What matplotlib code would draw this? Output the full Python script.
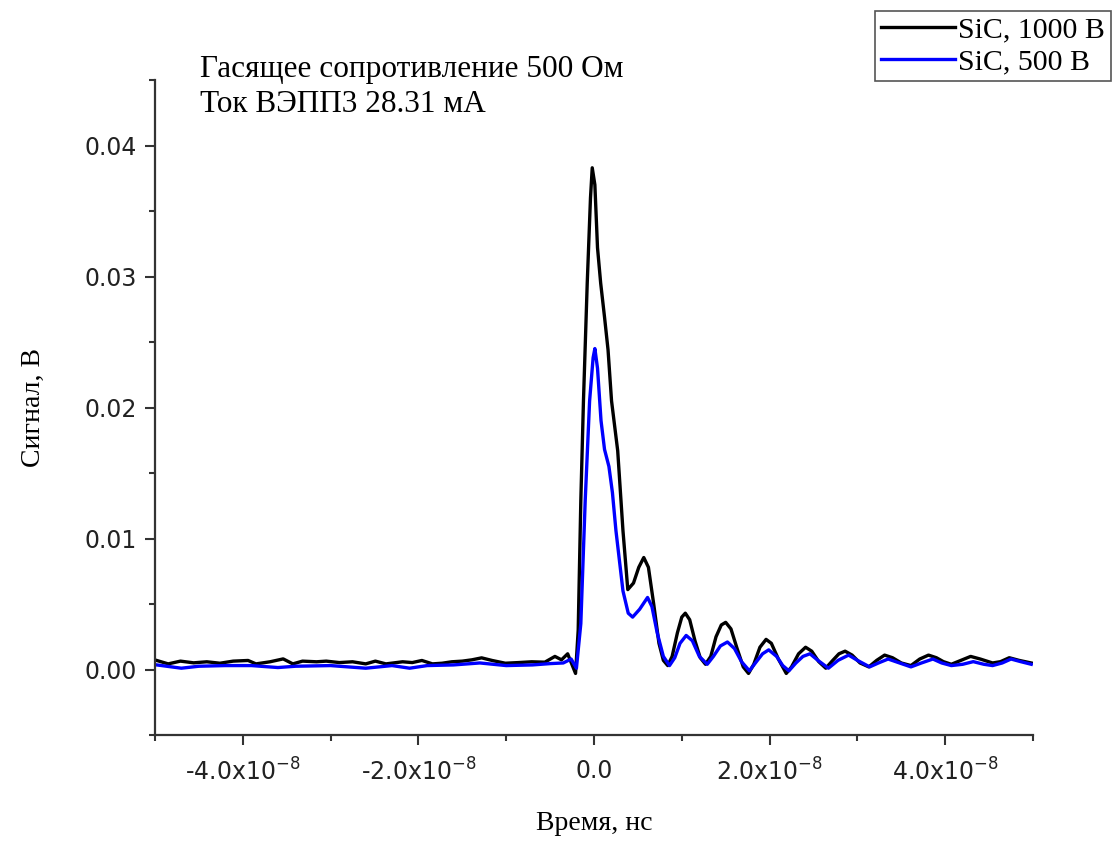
import numpy as np
import matplotlib.pyplot as plt
from matplotlib.ticker import MultipleLocator

plt.rcParams['mathtext.default'] = 'regular'
plt.rcParams['axes.unicode_minus'] = False

# time in units of 1e-8 s, signal in mV
t_1000 = [-4.98, -4.85, -4.71, -4.56, -4.41, -4.26, -4.11, -3.94, -3.85, -3.69,
          -3.54, -3.43, -3.32, -3.16, -3.05, -2.90, -2.75, -2.60, -2.49, -2.37,
          -2.18, -2.07, -1.96, -1.84, -1.73, -1.62, -1.50, -1.39, -1.28, -1.16,
          -1.01, -0.86, -0.71, -0.56, -0.445, -0.37, -0.30, -0.21, -0.18, -0.15,
          -0.12, -0.077, -0.04, -0.02, 0.01, 0.04, 0.076, 0.12, 0.16, 0.20,
          0.27, 0.33, 0.385, 0.45, 0.51, 0.567, 0.62, 0.68, 0.74, 0.79,
          0.84, 0.89, 0.95, 1.00, 1.04, 1.09, 1.15, 1.21, 1.27, 1.33,
          1.39, 1.45, 1.50, 1.56, 1.63, 1.70, 1.76, 1.82, 1.89, 1.96,
          2.02, 2.10, 2.19, 2.25, 2.33, 2.41, 2.48, 2.56, 2.64, 2.72,
          2.79, 2.86, 2.94, 3.03, 3.13, 3.22, 3.31, 3.40, 3.50, 3.61,
          3.71, 3.81, 3.90, 3.98, 4.07, 4.18, 4.29, 4.40, 4.54, 4.63,
          4.73, 4.84, 4.98]
s_1000 = [0.69, 0.43, 0.64, 0.51, 0.59, 0.48, 0.64, 0.69, 0.43, 0.59,
          0.81, 0.43, 0.64, 0.59, 0.64, 0.53, 0.59, 0.43, 0.64, 0.43,
          0.59, 0.53, 0.69, 0.43, 0.48, 0.59, 0.64, 0.74, 0.89, 0.69,
          0.48, 0.53, 0.59, 0.56, 1.00, 0.74, 1.20, -0.30, 3.0, 12.9,
          20.5, 29.5, 36.0, 38.3, 37.0, 32.2, 29.5, 26.9, 24.4, 20.5,
          16.7, 10.6, 6.1, 6.6, 7.8, 8.55, 7.8, 5.0, 2.0, 0.7,
          0.3, 1.0, 2.8, 4.0, 4.3, 3.8, 2.2, 0.9, 0.4, 1.0,
          2.5, 3.4, 3.6, 3.1, 1.6, 0.2, -0.3, 0.4, 1.7, 2.3,
          2.0, 0.8, -0.3, 0.2, 1.2, 1.7, 1.4, 0.6, 0.1, 0.7,
          1.2, 1.4, 1.1, 0.5, 0.2, 0.7, 1.1, 0.9, 0.5, 0.3,
          0.8, 1.1, 0.9, 0.6, 0.4, 0.7, 1.0, 0.8, 0.5, 0.6,
          0.9, 0.7, 0.5]

t_500 = [-4.98, -4.7, -4.5, -4.2, -3.9, -3.6, -3.4, -3.0, -2.6, -2.3,
         -2.1, -1.9, -1.6, -1.3, -1.0, -0.7, -0.5, -0.35, -0.26, -0.20,
         -0.15, -0.10, -0.05, -0.01, 0.01, 0.04, 0.08, 0.12, 0.17, 0.21,
         0.25, 0.33, 0.39, 0.44, 0.52, 0.61, 0.66, 0.72, 0.79, 0.86,
         0.92, 0.98, 1.05, 1.12, 1.20, 1.29, 1.36, 1.44, 1.52, 1.60,
         1.68, 1.77, 1.85, 1.92, 1.99, 2.08, 2.15, 2.22, 2.30, 2.38,
         2.46, 2.55, 2.67, 2.78, 2.90, 3.00, 3.14, 3.24, 3.35, 3.48,
         3.61, 3.73, 3.86, 3.96, 4.07, 4.20, 4.32, 4.44, 4.54, 4.65,
         4.75, 4.86, 4.98]
s_500 = [0.35, 0.10, 0.25, 0.30, 0.30, 0.15, 0.25, 0.30, 0.10, 0.30,
         0.10, 0.30, 0.35, 0.50, 0.30, 0.35, 0.45, 0.50, 0.80, 0.10,
         3.5, 12.9, 20.5, 23.8, 24.5, 23.0, 19.0, 16.8, 15.5, 13.5,
         10.6, 6.0, 4.3, 4.0, 4.6, 5.5, 4.8, 2.8, 1.0, 0.3,
         0.9, 2.0, 2.6, 2.2, 1.0, 0.4, 1.0, 1.8, 2.1, 1.6,
         0.6, -0.1, 0.6, 1.2, 1.5, 1.0, 0.3, -0.1, 0.5, 1.0,
         1.2, 0.7, 0.1, 0.7, 1.1, 0.7, 0.2, 0.5, 0.8, 0.5,
         0.2, 0.5, 0.8, 0.5, 0.3, 0.4, 0.6, 0.4, 0.3, 0.5,
         0.8, 0.6, 0.4]

labels = ['SiC, 1000 B', 'SiC, 500 B']
colors = ['#000000', '#0000ff']
xticks = [-4e-8, -2e-8, 0.0, 2e-8, 4e-8]
xticklabels = ['-4.0x10$^{-8}$', '-2.0x10$^{-8}$', '0.0', '2.0x10$^{-8}$', '4.0x10$^{-8}$']
yticks = [0.0, 0.01, 0.02, 0.03, 0.04]
yticklabels = ['0.00', '0.01', '0.02', '0.03', '0.04']

fig = plt.figure(figsize=(11.2, 8.43), dpi=100)
ax = fig.add_axes([0.1384, 0.1281, 0.7839, 0.777])

ax.plot(np.array(t_1000) * 1e-8, np.array(s_1000) * 1e-3, color=colors[0], lw=2.4,
        solid_joinstyle='round', label=labels[0])
ax.plot(np.array(t_500) * 1e-8, np.array(s_500) * 1e-3, color=colors[1], lw=2.4,
        solid_joinstyle='round', label=labels[1])

ax.set_xlim(-5e-8, 5e-8)
ax.set_ylim(-0.005, 0.045)
ax.set_xticks(xticks)
ax.set_xticklabels(xticklabels)
ax.xaxis.set_minor_locator(MultipleLocator(1e-8))
ax.set_yticks(yticks)
ax.set_yticklabels(yticklabels)
ax.yaxis.set_minor_locator(MultipleLocator(0.005))

for side in ['top', 'right']:
    ax.spines[side].set_visible(False)
for side in ['left', 'bottom']:
    ax.spines[side].set_color('#333333')
    ax.spines[side].set_linewidth(1.6)
ax.tick_params(which='major', direction='out', length=7, width=1.5, color='#333333',
               labelsize=17, labelcolor='#222222')
ax.tick_params(which='minor', direction='out', length=4, width=1.5, color='#333333')
ax.tick_params(axis='x', pad=10)
ax.tick_params(axis='y', pad=6)

ax.set_xlabel('Время, нс', family='Liberation Serif', fontsize=20, labelpad=18)
ax.set_ylabel('Сигнал, В', family='Liberation Serif', fontsize=20, labelpad=28)

fig.text(200 / 1120, 1 - 77 / 843, 'Гасящее сопротивление 500 Ом', family='Liberation Serif',
         fontsize=22.5, va='baseline', ha='left')
fig.text(200 / 1120, 1 - 112 / 843, 'Ток ВЭПП3 28.31 мА', family='Liberation Serif',
         fontsize=22.5, va='baseline', ha='left')

leg = fig.legend(loc='upper right', bbox_to_anchor=(1111 / 1120, 1 - 11 / 843),
                 prop={'family': 'Liberation Serif', 'size': 21.5}, fancybox=False,
                 edgecolor='#555555', framealpha=1, handlelength=2.5, handletextpad=0.1,
                 borderpad=0.2, labelspacing=0.15, borderaxespad=0)
leg.get_frame().set_linewidth(1.2)

fig.savefig('out.png', dpi=100)
